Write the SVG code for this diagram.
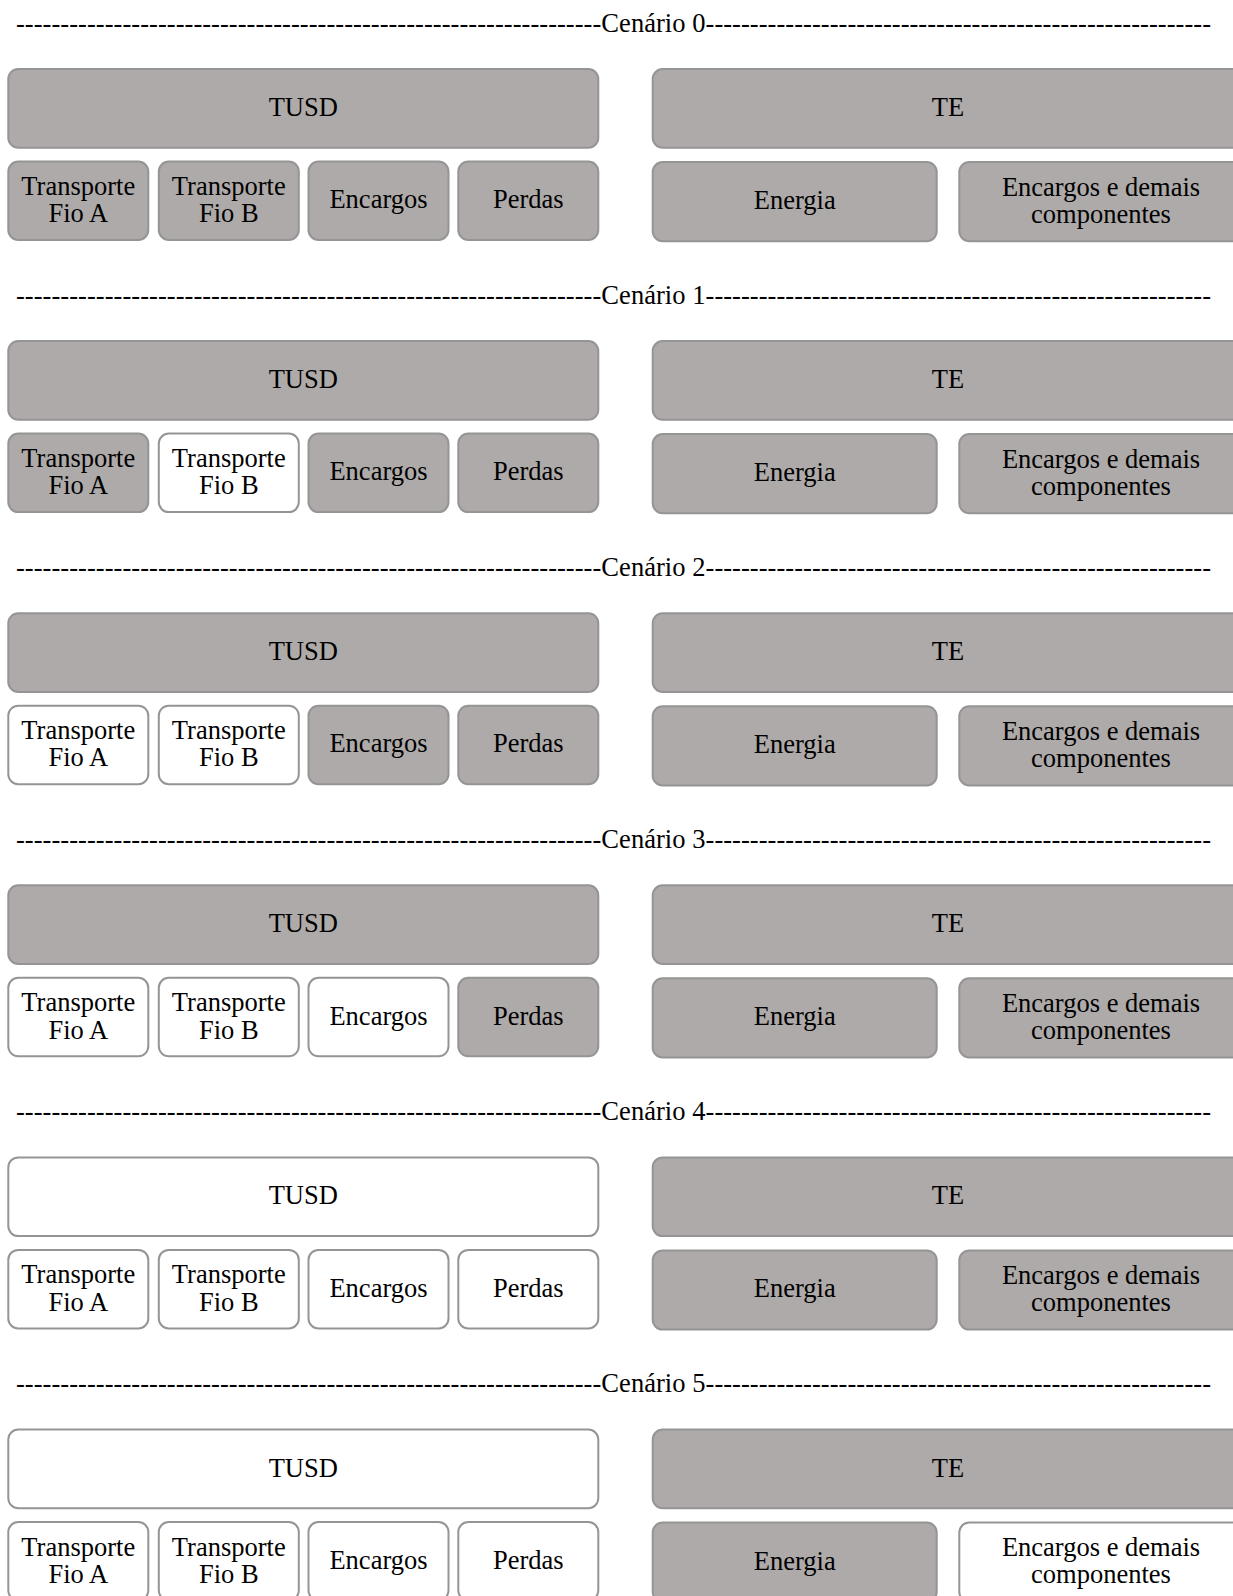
<svg xmlns="http://www.w3.org/2000/svg" width="1233" height="1596" viewBox="0 0 1233 1596">
<style>
text{font-family:"Liberation Serif","Times New Roman",serif;font-size:26.5px;fill:#000;}
.c{text-anchor:middle;}
.g{fill:#AEAAA9;stroke:#959595;stroke-width:2;}
.w{fill:#FFFFFF;stroke:#959595;stroke-width:2;}
</style>
<rect width="1233" height="1596" fill="#fff"/>

<!-- Scenario 0 -->
<g id="scenario0">
<text id="header0" x="16" y="31.7" textLength="1195" lengthAdjust="spacing">------------------------------------------------------------------Cenário 0---------------------------------------------------------</text>
<g id="s0-tusd"><rect class="g" x="8.3" y="69" width="590" height="78.7" rx="10"/><text class="c" x="303.3" y="116">TUSD</text></g>
<g id="s0-te"><rect class="g" x="652.7" y="69" width="592" height="78.7" rx="10"/><text class="c" x="948" y="116">TE</text></g>
<g id="s0-fioA"><rect class="g" x="8.3" y="161.5" width="140" height="78.5" rx="10"/><text class="c" x="78.3" y="195">Transporte</text><text class="c" x="78.3" y="222.3">Fio A</text></g>
<g id="s0-fioB"><rect class="g" x="158.8" y="161.5" width="140" height="78.5" rx="10"/><text class="c" x="228.8" y="195">Transporte</text><text class="c" x="228.8" y="222.3">Fio B</text></g>
<g id="s0-encargos"><rect class="g" x="308.5" y="161.5" width="140" height="78.5" rx="10"/><text class="c" x="378.5" y="208.3">Encargos</text></g>
<g id="s0-perdas"><rect class="g" x="458.3" y="161.5" width="140" height="78.5" rx="10"/><text class="c" x="528.3" y="208.3">Perdas</text></g>
<g id="s0-energia"><rect class="g" x="652.7" y="162" width="284" height="79.2" rx="10"/><text class="c" x="794.7" y="209">Energia</text></g>
<g id="s0-encdemais"><rect class="g" x="959.3" y="162" width="290" height="79.2" rx="10"/><text class="c" x="1101" y="195.5">Encargos e demais</text><text class="c" x="1101" y="222.5">componentes</text></g>
</g>

<!-- Scenario 1 -->
<g id="scenario1" transform="translate(0,272.1)">
<text id="header1" x="16" y="31.7" textLength="1195" lengthAdjust="spacing">------------------------------------------------------------------Cenário 1---------------------------------------------------------</text>
<g id="s1-tusd"><rect class="g" x="8.3" y="69" width="590" height="78.7" rx="10"/><text class="c" x="303.3" y="116">TUSD</text></g>
<g id="s1-te"><rect class="g" x="652.7" y="69" width="592" height="78.7" rx="10"/><text class="c" x="948" y="116">TE</text></g>
<g id="s1-fioA"><rect class="g" x="8.3" y="161.5" width="140" height="78.5" rx="10"/><text class="c" x="78.3" y="195">Transporte</text><text class="c" x="78.3" y="222.3">Fio A</text></g>
<g id="s1-fioB"><rect class="w" x="158.8" y="161.5" width="140" height="78.5" rx="10"/><text class="c" x="228.8" y="195">Transporte</text><text class="c" x="228.8" y="222.3">Fio B</text></g>
<g id="s1-encargos"><rect class="g" x="308.5" y="161.5" width="140" height="78.5" rx="10"/><text class="c" x="378.5" y="208.3">Encargos</text></g>
<g id="s1-perdas"><rect class="g" x="458.3" y="161.5" width="140" height="78.5" rx="10"/><text class="c" x="528.3" y="208.3">Perdas</text></g>
<g id="s1-energia"><rect class="g" x="652.7" y="162" width="284" height="79.2" rx="10"/><text class="c" x="794.7" y="209">Energia</text></g>
<g id="s1-encdemais"><rect class="g" x="959.3" y="162" width="290" height="79.2" rx="10"/><text class="c" x="1101" y="195.5">Encargos e demais</text><text class="c" x="1101" y="222.5">componentes</text></g>
</g>

<!-- Scenario 2 -->
<g id="scenario2" transform="translate(0,544.2)">
<text id="header2" x="16" y="31.7" textLength="1195" lengthAdjust="spacing">------------------------------------------------------------------Cenário 2---------------------------------------------------------</text>
<g id="s2-tusd"><rect class="g" x="8.3" y="69" width="590" height="78.7" rx="10"/><text class="c" x="303.3" y="116">TUSD</text></g>
<g id="s2-te"><rect class="g" x="652.7" y="69" width="592" height="78.7" rx="10"/><text class="c" x="948" y="116">TE</text></g>
<g id="s2-fioA"><rect class="w" x="8.3" y="161.5" width="140" height="78.5" rx="10"/><text class="c" x="78.3" y="195">Transporte</text><text class="c" x="78.3" y="222.3">Fio A</text></g>
<g id="s2-fioB"><rect class="w" x="158.8" y="161.5" width="140" height="78.5" rx="10"/><text class="c" x="228.8" y="195">Transporte</text><text class="c" x="228.8" y="222.3">Fio B</text></g>
<g id="s2-encargos"><rect class="g" x="308.5" y="161.5" width="140" height="78.5" rx="10"/><text class="c" x="378.5" y="208.3">Encargos</text></g>
<g id="s2-perdas"><rect class="g" x="458.3" y="161.5" width="140" height="78.5" rx="10"/><text class="c" x="528.3" y="208.3">Perdas</text></g>
<g id="s2-energia"><rect class="g" x="652.7" y="162" width="284" height="79.2" rx="10"/><text class="c" x="794.7" y="209">Energia</text></g>
<g id="s2-encdemais"><rect class="g" x="959.3" y="162" width="290" height="79.2" rx="10"/><text class="c" x="1101" y="195.5">Encargos e demais</text><text class="c" x="1101" y="222.5">componentes</text></g>
</g>

<!-- Scenario 3 -->
<g id="scenario3" transform="translate(0,816.3)">
<text id="header3" x="16" y="31.7" textLength="1195" lengthAdjust="spacing">------------------------------------------------------------------Cenário 3---------------------------------------------------------</text>
<g id="s3-tusd"><rect class="g" x="8.3" y="69" width="590" height="78.7" rx="10"/><text class="c" x="303.3" y="116">TUSD</text></g>
<g id="s3-te"><rect class="g" x="652.7" y="69" width="592" height="78.7" rx="10"/><text class="c" x="948" y="116">TE</text></g>
<g id="s3-fioA"><rect class="w" x="8.3" y="161.5" width="140" height="78.5" rx="10"/><text class="c" x="78.3" y="195">Transporte</text><text class="c" x="78.3" y="222.3">Fio A</text></g>
<g id="s3-fioB"><rect class="w" x="158.8" y="161.5" width="140" height="78.5" rx="10"/><text class="c" x="228.8" y="195">Transporte</text><text class="c" x="228.8" y="222.3">Fio B</text></g>
<g id="s3-encargos"><rect class="w" x="308.5" y="161.5" width="140" height="78.5" rx="10"/><text class="c" x="378.5" y="208.3">Encargos</text></g>
<g id="s3-perdas"><rect class="g" x="458.3" y="161.5" width="140" height="78.5" rx="10"/><text class="c" x="528.3" y="208.3">Perdas</text></g>
<g id="s3-energia"><rect class="g" x="652.7" y="162" width="284" height="79.2" rx="10"/><text class="c" x="794.7" y="209">Energia</text></g>
<g id="s3-encdemais"><rect class="g" x="959.3" y="162" width="290" height="79.2" rx="10"/><text class="c" x="1101" y="195.5">Encargos e demais</text><text class="c" x="1101" y="222.5">componentes</text></g>
</g>

<!-- Scenario 4 -->
<g id="scenario4" transform="translate(0,1088.4)">
<text id="header4" x="16" y="31.7" textLength="1195" lengthAdjust="spacing">------------------------------------------------------------------Cenário 4---------------------------------------------------------</text>
<g id="s4-tusd"><rect class="w" x="8.3" y="69" width="590" height="78.7" rx="10"/><text class="c" x="303.3" y="116">TUSD</text></g>
<g id="s4-te"><rect class="g" x="652.7" y="69" width="592" height="78.7" rx="10"/><text class="c" x="948" y="116">TE</text></g>
<g id="s4-fioA"><rect class="w" x="8.3" y="161.5" width="140" height="78.5" rx="10"/><text class="c" x="78.3" y="195">Transporte</text><text class="c" x="78.3" y="222.3">Fio A</text></g>
<g id="s4-fioB"><rect class="w" x="158.8" y="161.5" width="140" height="78.5" rx="10"/><text class="c" x="228.8" y="195">Transporte</text><text class="c" x="228.8" y="222.3">Fio B</text></g>
<g id="s4-encargos"><rect class="w" x="308.5" y="161.5" width="140" height="78.5" rx="10"/><text class="c" x="378.5" y="208.3">Encargos</text></g>
<g id="s4-perdas"><rect class="w" x="458.3" y="161.5" width="140" height="78.5" rx="10"/><text class="c" x="528.3" y="208.3">Perdas</text></g>
<g id="s4-energia"><rect class="g" x="652.7" y="162" width="284" height="79.2" rx="10"/><text class="c" x="794.7" y="209">Energia</text></g>
<g id="s4-encdemais"><rect class="g" x="959.3" y="162" width="290" height="79.2" rx="10"/><text class="c" x="1101" y="195.5">Encargos e demais</text><text class="c" x="1101" y="222.5">componentes</text></g>
</g>

<!-- Scenario 5 -->
<g id="scenario5" transform="translate(0,1360.5)">
<text id="header5" x="16" y="31.7" textLength="1195" lengthAdjust="spacing">------------------------------------------------------------------Cenário 5---------------------------------------------------------</text>
<g id="s5-tusd"><rect class="w" x="8.3" y="69" width="590" height="78.7" rx="10"/><text class="c" x="303.3" y="116">TUSD</text></g>
<g id="s5-te"><rect class="g" x="652.7" y="69" width="592" height="78.7" rx="10"/><text class="c" x="948" y="116">TE</text></g>
<g id="s5-fioA"><rect class="w" x="8.3" y="161.5" width="140" height="78.5" rx="10"/><text class="c" x="78.3" y="195">Transporte</text><text class="c" x="78.3" y="222.3">Fio A</text></g>
<g id="s5-fioB"><rect class="w" x="158.8" y="161.5" width="140" height="78.5" rx="10"/><text class="c" x="228.8" y="195">Transporte</text><text class="c" x="228.8" y="222.3">Fio B</text></g>
<g id="s5-encargos"><rect class="w" x="308.5" y="161.5" width="140" height="78.5" rx="10"/><text class="c" x="378.5" y="208.3">Encargos</text></g>
<g id="s5-perdas"><rect class="w" x="458.3" y="161.5" width="140" height="78.5" rx="10"/><text class="c" x="528.3" y="208.3">Perdas</text></g>
<g id="s5-energia"><rect class="g" x="652.7" y="162" width="284" height="79.2" rx="10"/><text class="c" x="794.7" y="209">Energia</text></g>
<g id="s5-encdemais"><rect class="w" x="959.3" y="162" width="290" height="79.2" rx="10"/><text class="c" x="1101" y="195.5">Encargos e demais</text><text class="c" x="1101" y="222.5">componentes</text></g>
</g>
</svg>
